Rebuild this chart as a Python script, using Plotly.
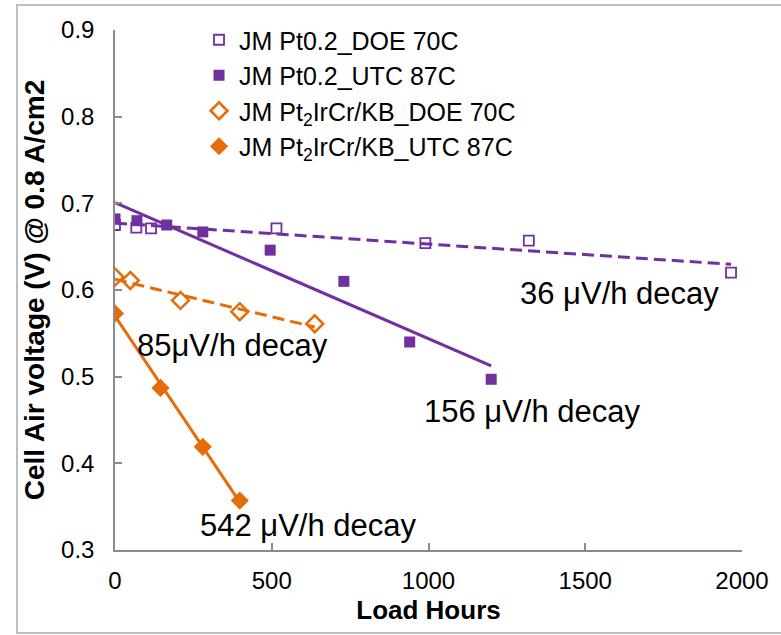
import numpy as np
import plotly.graph_objects as go

# ---- data ----
doe_pt_hours = [0, 68, 115, 515, 990, 1320, 1965]
doe_pt_volts = [0.675, 0.672, 0.671, 0.671, 0.654, 0.657, 0.620]

utc_pt_hours = [0, 70, 165, 280, 495, 730, 940, 1200]
utc_pt_volts = [0.682, 0.680, 0.675, 0.667, 0.646, 0.610, 0.540, 0.497]

doe_ir_hours = [0, 49, 209, 398, 637]
doe_ir_volts = [0.615, 0.611, 0.588, 0.575, 0.561]

utc_ir_hours = [0, 145, 280, 398]
utc_ir_volts = [0.573, 0.487, 0.419, 0.357]

series_names = ["JM Pt0.2_DOE 70C", "JM Pt0.2_UTC 87C",
                "JM Pt<sub>2</sub>IrCr/KB_DOE 70C", "JM Pt<sub>2</sub>IrCr/KB_UTC 87C"]

decay_labels = ["36 μV/h decay", "85μV/h decay", "156 μV/h decay", "542 μV/h decay"]
label_x = [1608, 374, 1333, 616]
label_y = [0.596, 0.536, 0.460, 0.328]

x_ticks = [0, 500, 1000, 1500, 2000]
y_ticks = [0.3, 0.4, 0.5, 0.6, 0.7, 0.8, 0.9]

PURPLE = "#7030A0"
ORANGE = "#E46C0A"
FONT = "Liberation Sans, Arial, sans-serif"

fig = go.Figure()


def trend(hours, volts):
    k, b = np.polyfit(hours, volts, 1)
    xs = [min(hours), max(hours)]
    return xs, [k * x + b for x in xs]


# trend lines (not in legend)
for hrs, vts, col, dash in [
    (doe_pt_hours, doe_pt_volts, PURPLE, "12px,6px"),
    (utc_pt_hours, utc_pt_volts, PURPLE, "solid"),
    (doe_ir_hours, doe_ir_volts, ORANGE, "12px,6px"),
    (utc_ir_hours, utc_ir_volts, ORANGE, "solid"),
]:
    tx, ty = trend(hrs, vts)
    fig.add_trace(go.Scatter(x=tx, y=ty, mode="lines", showlegend=False,
                             line=dict(color=col, width=3, dash=dash),
                             hoverinfo="skip"))

# markers
fig.add_trace(go.Scatter(x=doe_pt_hours, y=doe_pt_volts, mode="markers", name=series_names[0],
                         legendgroup="a",
                         marker=dict(symbol="square-open", size=10, color=PURPLE,
                                     line=dict(color=PURPLE, width=1.8))))
fig.add_trace(go.Scatter(x=utc_pt_hours, y=utc_pt_volts, mode="markers", name=series_names[1],
                         legendgroup="b",
                         marker=dict(symbol="square", size=11, color=PURPLE)))
fig.add_trace(go.Scatter(x=doe_ir_hours, y=doe_ir_volts, mode="markers", name=series_names[2],
                         legendgroup="c",
                         marker=dict(symbol="diamond-open", size=13, color=ORANGE,
                                     line=dict(color=ORANGE, width=2.5))))
fig.add_trace(go.Scatter(x=utc_ir_hours, y=utc_ir_volts, mode="markers", name=series_names[3],
                         legendgroup="d",
                         marker=dict(symbol="diamond", size=14, color=ORANGE)))

for txt, lx, ly in zip(decay_labels, label_x, label_y):
    fig.add_annotation(x=lx, y=ly, text=txt, showarrow=False,
                       font=dict(family=FONT, size=31, color="#000000"),
                       xanchor="center", yanchor="middle")

axis_common = dict(showgrid=False, zeroline=False, showline=True, automargin=False,
                   linecolor="#8C8C8C", linewidth=1.5,
                   ticks="inside", ticklen=7, tickcolor="#8C8C8C", tickwidth=1.5,
                   tickfont=dict(family=FONT, size=24, color="#000000"))

fig.update_xaxes(range=[0, 2000], tickvals=x_ticks, ticktext=[str(v) for v in x_ticks],
                 title=dict(text="<b>Load Hours</b>", font=dict(family=FONT, size=26, color="#000000"),
                            standoff=8),
                 ticklabelstandoff=8,
                 **axis_common)
fig.update_yaxes(range=[0.3, 0.9], tickvals=y_ticks, ticktext=[f"{v:.1f}" for v in y_ticks],
                 title=dict(text="<b>Cell Air voltage (V) @ 0.8 A/cm2</b>",
                            font=dict(family=FONT, size=28, color="#000000"), standoff=8),
                 ticklabelstandoff=14,
                 **axis_common)

W, H = 781, 635
L, R, T, B = 115, 39, 30, 85
pw, ph = W - L - R, H - T - B

# outer frame of the picture
fig.add_shape(type="rect", xref="paper", yref="paper",
              x0=(17 - L) / pw, x1=(W + 5 - L) / pw,
              y0=(H - B - 633) / ph, y1=(H - B - 5) / ph,
              line=dict(color="#BFBFBF", width=2), fillcolor="rgba(0,0,0,0)", layer="below")

fig.update_layout(
    width=W, height=H,
    margin=dict(l=L, r=R, t=T, b=B, autoexpand=False),
    paper_bgcolor="white", plot_bgcolor="white",
    font=dict(family=FONT, color="#000000"),
    showlegend=True,
    legend=dict(x=0.134, y=1.025, xanchor="left", yanchor="top",
                bgcolor="rgba(0,0,0,0)", font=dict(family=FONT, size=25, color="#000000"),
                tracegroupgap=0, itemwidth=30),
)

fig.write_html("out.html", config={"displayModeBar": False},
               post_script="document.body.style.margin='0';")
